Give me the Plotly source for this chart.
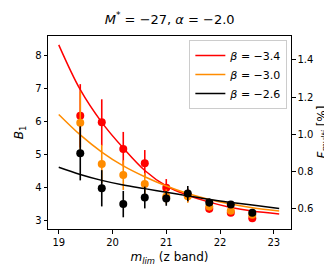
import plotly.graph_objects as go

# data points
m_lim = [19.4, 19.8, 20.2, 20.6, 21.0, 21.4, 21.8, 22.2, 22.6]
b_red = [6.18, 5.98, 5.17, 4.74, 4.00, 3.77, 3.36, 3.24, 3.07]
e_red = [0.96, 0.70, 0.52, 0.40, 0.26, 0.20, 0.12, 0.08, 0.06]
b_orange = [5.97, 4.72, 4.38, 4.11, 3.73, 3.74, 3.43, 3.30, 3.18]
e_orange = [0.95, 0.58, 0.45, 0.33, 0.22, 0.20, 0.12, 0.08, 0.06]
b_black = [5.04, 3.98, 3.50, 3.70, 3.67, 3.82, 3.55, 3.49, 3.24]
e_black = [0.82, 0.55, 0.40, 0.33, 0.22, 0.23, 0.12, 0.08, 0.06]

# fitted curves
m_curve = [19.0, 19.4, 19.8, 20.2, 20.6, 21.0, 21.4, 21.8, 22.2, 22.6, 23.1]
c_red = [8.33, 6.97, 5.98, 5.20, 4.52, 4.05, 3.77, 3.56, 3.40, 3.29, 3.20]
c_orange = [6.22, 5.60, 5.08, 4.66, 4.33, 4.05, 3.82, 3.64, 3.50, 3.39, 3.29]
c_black = [4.62, 4.40, 4.22, 4.08, 3.97, 3.86, 3.75, 3.64, 3.55, 3.47, 3.37]

betas = ["−3.4", "−3.0", "−2.6"]
colors = ["#ff0000", "#ff8c00", "#000000"]

fig = go.Figure()
series = [(b_red, e_red, c_red), (b_orange, e_orange, c_orange), (b_black, e_black, c_black)]
for (b, e, c), col, beta in zip(series, colors, betas):
    fig.add_trace(go.Scatter(
        x=m_lim, y=b, mode="markers",
        marker=dict(color=col, size=8),
        error_y=dict(type="data", array=e, thickness=1.6, width=0, color=col),
        showlegend=False))
    fig.add_trace(go.Scatter(
        x=m_curve, y=c, mode="lines", line=dict(color=col, width=1.5, shape="spline"),
        name="<i>β</i> = " + beta))

fig.add_trace(go.Scatter(x=[None], y=[None], yaxis="y2", showlegend=False))

axis_common = dict(showline=True, linecolor="black", linewidth=1, ticks="outside",
                   ticklen=3.5, tickcolor="black", showgrid=False, zeroline=False,
                   tickfont=dict(size=10, color="black"))

fig.update_layout(
    width=332, height=266,
    margin=dict(l=40, r=49, t=28, b=45),
    paper_bgcolor="white", plot_bgcolor="white",
    font=dict(family="DejaVu Sans", color="black"),
    title=dict(text="<i>M</i><sup>*</sup> = −27, <i>α</i> = −2.0", x=0.487, xanchor="center",
               y=0.975, yanchor="top", font=dict(size=13)),
    xaxis=dict(range=[18.80, 23.32], tickvals=[19, 20, 21, 22, 23], mirror=True,
               title=dict(text="<i>m<sub>lim</sub></i> (z band)", font=dict(size=12), standoff=6),
               **axis_common),
    yaxis=dict(range=[2.745, 8.6], tickvals=[3, 4, 5, 6, 7, 8],
               title=dict(text="<i>B</i><sub>1</sub>", font=dict(size=12), standoff=8),
               **axis_common),
    yaxis2=dict(range=[0.4926, 1.527], overlaying="y", side="right",
                tickvals=[0.6, 0.8, 1.0, 1.2, 1.4], ticktext=["0.6", "0.8", "1.0", "1.2", "1.4"],
                **axis_common),
    legend=dict(x=0.985, y=0.979, xanchor="right", yanchor="top",
                bgcolor="white", bordercolor="#cccccc", borderwidth=1,
                font=dict(size=11), tracegroupgap=0, itemwidth=30),
    annotations=[dict(text="<i>F<sub>multi</sub></i> [%]", xref="paper", yref="paper",
                      x=1.0, y=0.5, xanchor="center", yanchor="middle", xshift=31, textangle=-90,
                      showarrow=False, font=dict(size=12))],
)

fig.write_html("out.html")
